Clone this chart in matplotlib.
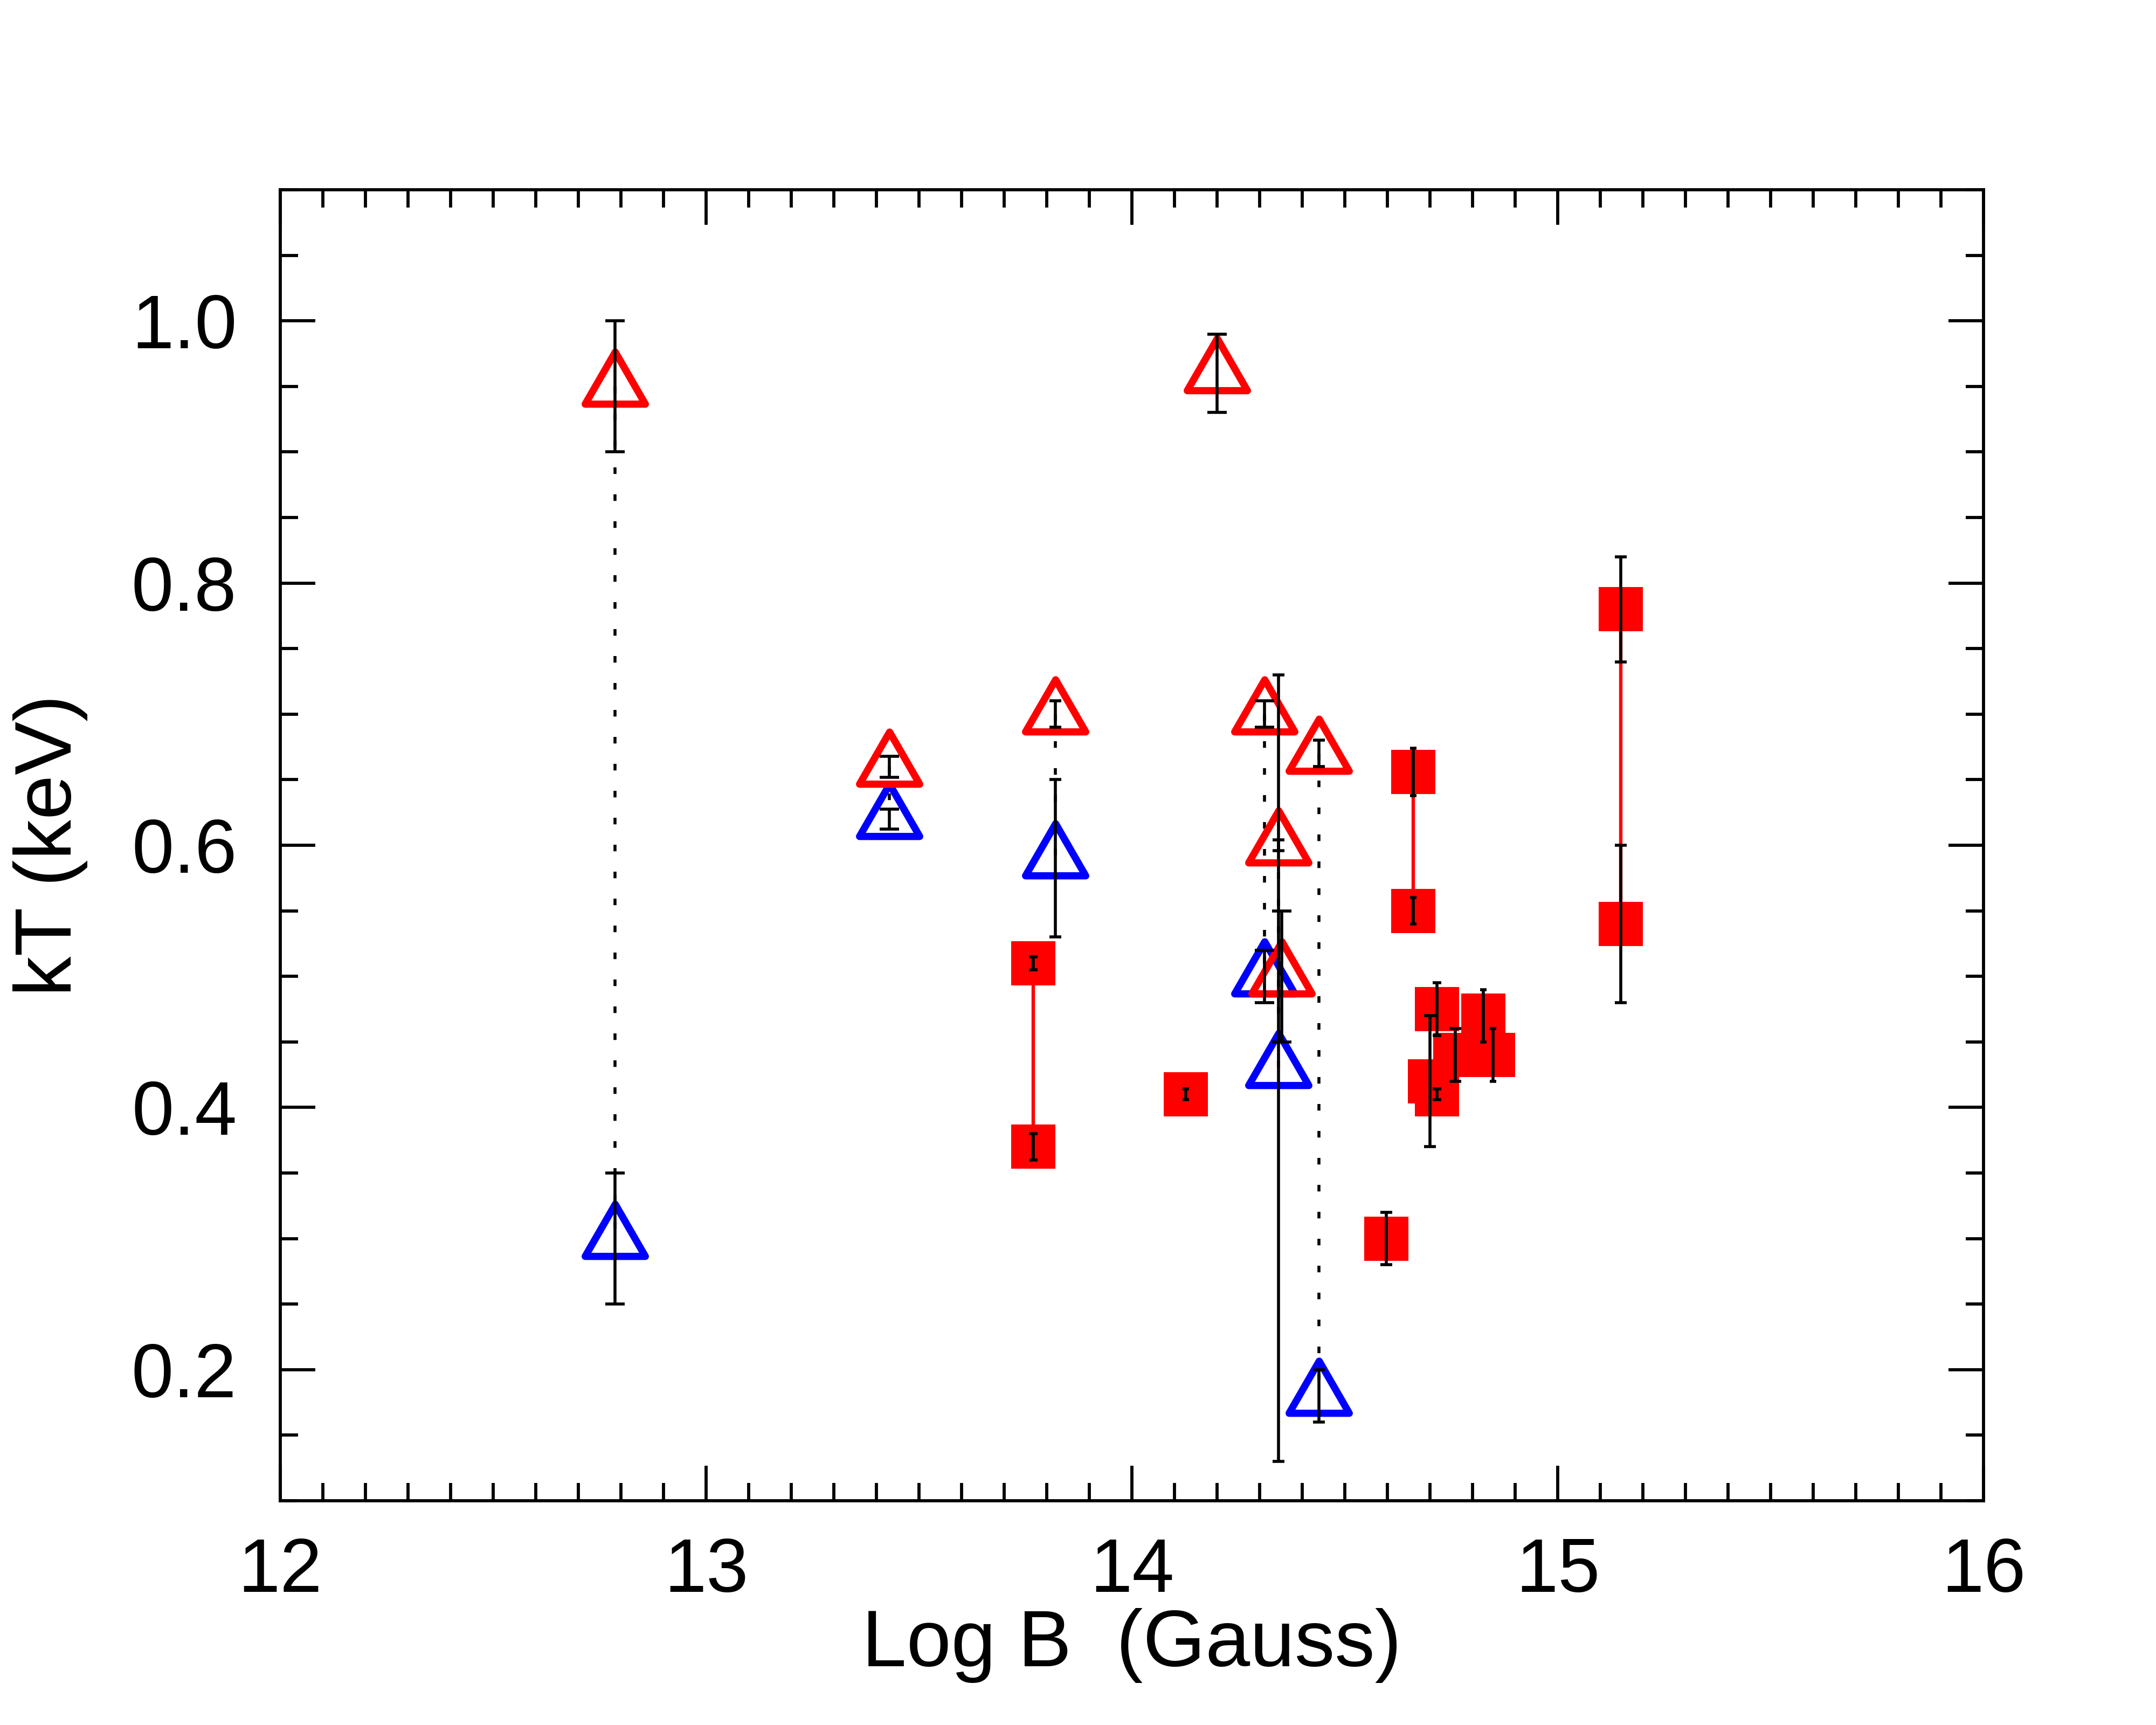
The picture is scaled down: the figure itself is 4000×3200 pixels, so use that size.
import numpy as np
import matplotlib
matplotlib.use('Agg')
import matplotlib.pyplot as plt
from matplotlib.path import Path
from matplotlib.markers import MarkerStyle
from matplotlib.ticker import MultipleLocator

plt.rcParams['font.family'] = ['Liberation Sans', 'DejaVu Sans']

# red open triangles (log B, kT, error)
red_logB = [12.786, 13.43, 13.82, 14.20, 14.312, 14.344, 14.352, 14.439]
red_kT = [0.95, 0.66, 0.70, 0.96, 0.70, 0.60, 0.50, 0.67]
red_err = [0.05, 0.008, 0.01, 0.03, 0.01, 0.004, 0.05, 0.01]

# blue open triangles
blue_logB = [12.786, 13.43, 13.82, 14.312, 14.344, 14.439]
blue_kT = [0.30, 0.62, 0.59, 0.50, 0.43, 0.18]
blue_err = [0.05, 0.0075, 0.06, 0.02, 0.30, 0.02]

# dotted links: red index -> blue index
link_red = [0, 1, 2, 4, 5, 7]
link_blue = [0, 1, 2, 3, 4, 5]

# red filled squares
sq_logB = [13.768, 13.768, 14.126, 14.597, 14.661, 14.661, 14.700,
           14.716, 14.716, 14.759, 14.825, 14.848, 15.148, 15.148]
sq_kT = [0.51, 0.37, 0.41, 0.30, 0.656, 0.55, 0.42,
         0.475, 0.41, 0.44, 0.47, 0.44, 0.78, 0.54]
sq_err = [0.005, 0.01, 0.004, 0.02, 0.018, 0.01, 0.05,
          0.02, 0.004, 0.02, 0.02, 0.02, 0.04, 0.06]
# solid red links between squares
sq_links = [(0, 1), (4, 5), (12, 13)]

# half widths of the error bar caps (points)
red_caps = [3.3, 3.3, 2.0, 3.3, 3.3, 2.0, 3.3, 2.0]
blue_caps = [3.3, 3.3, 2.0, 3.3, 2.0, 2.0]
sq_caps = [1.5, 1.5, 1.1, 2.0, 1.0, 1.0, 1.9, 1.45, 1.45, 1.9, 1.0, 1.1, 2.0, 2.0]

# equilateral triangle with its centroid on the data point
s3 = np.sqrt(3)
tri_path = Path([(0, 2 / s3), (-1, -1 / s3), (1, -1 / s3), (0, 0)],
                [Path.MOVETO, Path.LINETO, Path.LINETO, Path.CLOSEPOLY])
tri = MarkerStyle(tri_path, joinstyle='miter')

fig = plt.figure(figsize=(10, 8), dpi=400)
ax = fig.add_axes([0.13, 0.13, 0.79, 0.76])

dots = (0, (2.2, 6.8))
for i, j in zip(link_red, link_blue):
    ax.plot([red_logB[i], blue_logB[j]], [red_kT[i], blue_kT[j]],
            color='k', lw=1.0, linestyle=dots, zorder=1)

for i, j in sq_links:
    ax.plot([sq_logB[i], sq_logB[j]], [sq_kT[i], sq_kT[j]],
            color='red', lw=1.15, zorder=1)

ax.plot(blue_logB, blue_kT, linestyle='none', marker=tri, ms=23.2,
        mfc='none', mec='blue', mew=2.4, zorder=2)
ax.plot(red_logB, red_kT, linestyle='none', marker=tri, ms=23.2,
        mfc='none', mec='red', mew=2.4, zorder=3)
ax.plot(sq_logB, sq_kT, linestyle='none', marker='s', ms=14.9,
        mfc='red', mew=0, zorder=2)


def draw_errs(xs, ys, es, caps):
    for x, y, e, c in zip(xs, ys, es, caps):
        ax.errorbar(x, y, yerr=e, fmt='none', ecolor='k', elinewidth=1.0,
                    capsize=c, capthick=1.0, zorder=4)


draw_errs(blue_logB, blue_kT, blue_err, blue_caps)
draw_errs(red_logB, red_kT, red_err, red_caps)
draw_errs(sq_logB, sq_kT, sq_err, sq_caps)

ax.set_xlim(12, 16)
ax.set_ylim(0.1, 1.1)
ax.xaxis.set_major_locator(MultipleLocator(1))
ax.xaxis.set_minor_locator(MultipleLocator(0.1))
ax.yaxis.set_major_locator(MultipleLocator(0.2))
ax.yaxis.set_minor_locator(MultipleLocator(0.05))
ax.tick_params(which='both', direction='in', top=True, right=True,
               width=1.05, labelsize=25.3)
ax.tick_params(which='major', length=11.7)
ax.tick_params(which='minor', length=5.9)
ax.tick_params(axis='x', pad=12)
ax.tick_params(axis='y', pad=14.5)
for sp in ax.spines.values():
    sp.set_linewidth(1.05)

ax.set_xlabel('Log B  (Gauss)', fontsize=26.8)
ax.set_ylabel('kT (keV)', fontsize=26.8)
ax.xaxis.set_label_coords(0.5, -0.082)
ax.yaxis.set_label_coords(-0.113, 0.5)

fig.savefig('out.png', dpi=400)
